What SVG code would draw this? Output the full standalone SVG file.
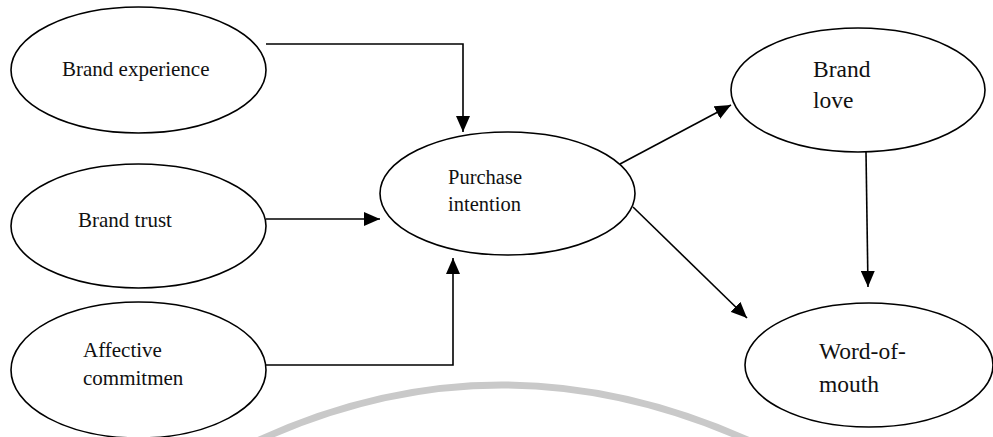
<svg xmlns="http://www.w3.org/2000/svg" width="993" height="437" viewBox="0 0 993 437">
<style>
.node ellipse{fill:none;stroke:#000;stroke-width:1.6}
.node text{font-family:"Liberation Serif","Times New Roman",serif;fill:#111;font-size:21px}
.edge{fill:none;stroke:#000;stroke-width:1.6}
.wm{fill:none;stroke:#c9c9c9;stroke-width:7}
</style>
<defs>
<marker id="arr" markerUnits="userSpaceOnUse" markerWidth="16" markerHeight="14" refX="16" refY="7" orient="auto">
<path d="M0 0 L16 7 L0 14 Z" fill="#000"/>
</marker>
</defs>
<rect width="993" height="437" fill="#fff"/>
<path class="wm" d="M 255 442 Q 500 328 752 442"/>
<g id="connectors">
<path class="edge" d="M 266 44 H 463 V 132" marker-end="url(#arr)"/>
<path class="edge" d="M 266 219 H 380" marker-end="url(#arr)"/>
<path class="edge" d="M 266 365 H 453 V 258" marker-end="url(#arr)"/>
<path class="edge" d="M 620 164 L 731 105" marker-end="url(#arr)"/>
<path class="edge" d="M 633 207 L 747 318" marker-end="url(#arr)"/>
<path class="edge" d="M 866 152 L 868 287" marker-end="url(#arr)"/>
</g>
<g id="brand-experience" class="node">
<ellipse cx="138.5" cy="70" rx="127.5" ry="63"/>
<text x="62" y="76">Brand experience</text>
</g>
<g id="brand-trust" class="node">
<ellipse cx="138.5" cy="226" rx="127.5" ry="62"/>
<text x="78" y="227">Brand trust</text>
</g>
<g id="affective-commitment" class="node">
<ellipse cx="138.5" cy="370" rx="127.5" ry="68"/>
<text x="83" y="357">Affective</text>
<text x="83" y="385">commitmen</text>
</g>
<g id="purchase-intention" class="node">
<ellipse cx="507.5" cy="193.5" rx="127.5" ry="61.5"/>
<text x="448" y="184" style="font-size:20.5px">Purchase</text>
<text x="448" y="211" style="font-size:20.5px">intention</text>
</g>
<g id="brand-love" class="node">
<ellipse cx="858" cy="90" rx="127" ry="62"/>
<text x="813" y="77" style="font-size:23.5px">Brand</text>
<text x="813" y="108" style="font-size:23.5px">love</text>
</g>
<g id="word-of-mouth" class="node">
<ellipse cx="869" cy="365" rx="124" ry="62"/>
<text x="819" y="359" style="font-size:23.5px">Word-of-</text>
<text x="819" y="392" style="font-size:23.5px">mouth</text>
</g>
</svg>
